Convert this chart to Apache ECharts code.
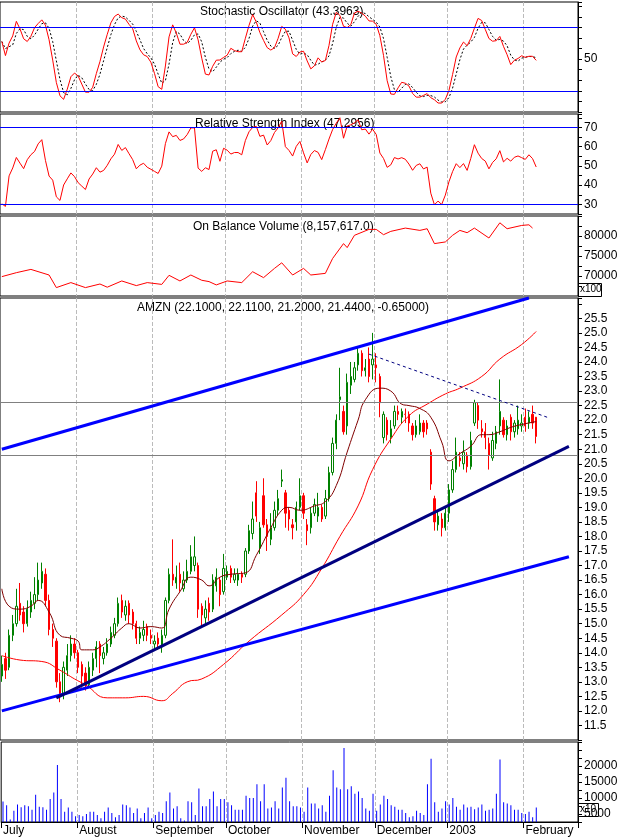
<!DOCTYPE html>
<html>
<head>
<meta charset="utf-8">
<script src="https://cdn.jsdelivr.net/npm/echarts@6/dist/echarts.min.js"></script>
<style>
  html, body { margin: 0; padding: 0; background: #fff; }
  #chart { width: 628px; height: 837px; }
</style>
</head>
<body>
<div id="chart"></div>
<script>
// данные AMZN, июль 2002 – февраль 2003
const opens = [13.2,13.8,13.5,14.6,15.0,15.7,15.4,15.0,15.4,15.7,16.0,16.4,16.7,15.8,14.8,14.4,13.0,12.6,13.4,13.9,14.3,14.0,13.6,13.3,12.9,13.4,13.8,14.3,13.8,14.0,
  14.3,14.6,15.0,15.8,15.3,15.7,15.4,15.0,14.5,14.6,14.9,14.6,14.3,14.5,14.2,14.6,15.8,16.7,16.4,16.7,16.2,16.5,16.8,17.0,17.0,15.6,15.2,15.7,15.5,16.3,
  16.5,16.1,16.6,16.9,16.5,16.5,16.7,16.7,17.5,18.1,19.5,17.6,19.4,18.4,17.9,18.3,18.9,19.9,19.5,18.9,18.4,18.5,19.0,19.4,18.4,18.3,18.8,18.7,19.0,18.7,
  19.3,20.2,21.2,22.7,22.3,21.8,23.2,23.4,23.9,24.3,23.7,24.1,23.9,23.9,23.5,21.4,22.0,21.4,21.8,22.3,22.1,22.2,22.2,21.8,21.5,21.6,21.9,21.9,20.9,19.3,
  18.4,18.6,18.3,18.8,19.6,20.3,20.7,20.5,20.8,20.4,21.9,22.5,21.7,21.6,21.2,20.7,21.2,21.8,22.0,21.5,22.1,21.6,21.7,21.8,22.1,21.9,22.2,22.10];
const closes = [13.6,13.4,14.6,15.0,15.6,15.3,15.0,15.5,15.8,16.0,16.5,16.8,15.8,14.8,14.5,13.0,12.6,13.5,13.9,14.3,14.0,13.5,13.2,12.9,13.5,13.8,14.2,13.9,14.0,14.3,
  14.7,15.0,15.7,15.4,15.6,15.3,15.0,14.5,14.7,14.8,14.6,14.5,14.4,14.3,14.6,15.8,16.7,16.5,16.6,16.4,16.5,16.8,17.3,17.3,15.5,15.3,15.5,15.4,16.5,16.6,
  16.0,16.9,16.8,16.6,16.7,16.7,16.6,17.5,18.2,18.6,18.7,18.3,18.4,18.0,18.3,18.9,19.3,19.95,18.8,18.6,18.3,19.0,19.4,18.8,18.2,18.8,19.1,19.0,18.6,19.3,
  20.2,21.2,22.0,22.8,21.6,23.3,23.5,23.8,24.3,23.7,23.8,23.5,24.1,23.8,22.6,22.2,21.5,21.7,22.3,22.2,22.3,22.2,21.9,21.5,21.8,21.9,21.6,21.7,19.8,18.5,
  18.7,18.3,18.8,19.6,20.3,20.9,20.6,20.9,20.4,21.3,22.6,22.0,21.6,21.4,20.8,21.3,21.6,22.3,21.5,21.8,21.6,21.9,22.0,21.9,21.8,22.1,21.9,21.44];
const lows = [13.0,13.1,13.4,14.4,14.9,15.1,14.7,14.9,15.2,15.5,15.8,16.2,15.6,14.6,14.2,12.8,12.3,12.4,13.2,13.7,13.8,13.3,12.8,12.7,12.8,13.2,13.5,13.3,13.6,13.9,
  14.2,14.5,14.9,15.2,15.1,15.0,14.8,14.3,14.3,14.4,14.4,14.3,14.1,14.1,14.0,14.5,15.7,16.3,16.2,16.1,16.1,16.4,16.7,16.8,15.2,14.9,15.0,15.1,15.4,16.1,
  15.6,16.0,16.5,16.4,16.4,16.3,16.4,16.6,17.4,17.9,18.5,17.4,18.3,17.5,17.7,18.2,18.7,19.7,18.3,18.2,17.9,18.2,18.9,18.6,17.7,18.1,18.7,18.5,18.5,18.6,
  19.2,20.1,21.0,22.0,21.5,21.5,22.9,23.3,23.7,23.5,23.5,23.3,23.4,23.3,22.1,21.2,21.3,21.2,21.7,22.0,21.9,21.9,21.6,21.3,21.4,21.5,21.4,21.5,19.6,18.2,
  18.2,18.0,18.2,18.5,19.5,20.2,20.4,20.3,20.2,20.3,21.8,21.7,21.4,21.0,20.3,20.6,21.0,21.5,21.4,21.3,21.3,21.4,21.5,21.6,21.6,21.7,21.7,21.20];
const highs = [13.9,14.0,14.8,15.3,16.2,16.4,15.6,15.8,16.1,16.6,17.1,17.1,16.9,16.0,15.0,14.5,13.3,13.7,14.3,14.6,14.5,14.1,13.7,13.5,13.7,14.0,14.4,14.4,14.2,14.5,
  14.9,15.2,15.9,16.0,15.8,15.8,15.5,15.1,14.9,15.1,15.0,14.8,14.6,14.7,14.8,15.9,16.9,17.9,17.0,17.1,16.8,17.2,17.7,18.0,17.1,15.7,15.8,15.9,16.7,16.9,
  16.6,17.4,17.0,17.0,16.9,16.9,16.8,17.6,18.4,19.2,19.9,18.5,20.0,18.6,18.8,19.2,19.6,20.3,19.6,19.0,18.6,19.2,20.0,19.5,18.6,19.0,19.3,19.5,19.1,19.6,
  20.4,21.4,22.2,23.8,22.5,23.6,24.0,24.0,24.5,24.4,24.1,24.5,25.0,24.3,23.6,22.3,22.1,22.0,22.5,22.5,22.4,22.4,22.3,21.9,22.0,22.2,22.0,22.0,21.0,19.4,
  18.9,18.8,19.0,19.8,20.6,21.4,20.9,21.3,20.9,21.6,22.7,22.6,22.0,21.9,21.4,21.6,21.8,23.4,22.1,22.0,22.2,22.0,22.5,22.2,22.4,22.3,22.5,22.11];
const volumes = [8900,7700,3300,6000,8000,7100,7700,7400,6300,11000,7300,7100,6300,9700,11700,20300,9700,5700,7000,5700,4300,4700,4300,5000,5700,5700,4700,3700,5700,7000,
  5300,4000,4700,8000,7700,7000,5300,6700,3700,5300,7000,3700,4700,5700,5300,9000,11700,6700,7400,3700,3000,9000,8700,4700,13000,7400,7400,9700,12000,7400,
  9700,9700,8700,7700,6300,6300,6300,10700,10000,10000,14300,9000,14300,6700,7000,9000,6700,13300,16300,9000,7400,7400,7000,5700,13300,8300,8300,6700,7700,5700,
  10700,18700,13300,12700,25600,12700,13700,11300,12000,10000,6700,6000,11300,6000,8000,10700,9700,7700,7300,6300,6300,5300,4000,4300,6000,5300,4700,14300,22300,8700,
  5700,6700,9000,8000,10000,7300,6300,8000,7000,7300,6500,7000,8000,6000,6300,6700,11300,22000,8700,8300,7700,6300,6300,5300,5000,5700,4000,7000];

// скользящие средние и OBV — опорные точки (индекс бара, значение)
const maShortIdx = [0,2,5,8,10,13,16,19,21,22,25,27,30,33,35,38,41,44,46,49,52,55,57,60,63,67,70,74,77,79,82,86,89,92,95,98,100,104,107,110,112,115,118,121,123,126,129,132,134,137,140,143,147];
const maShortVal = [16.2,15.6,15.5,15.6,15.8,15.4,14.6,14.5,14.4,14.1,14.1,14.2,14.5,14.85,15.0,14.85,14.9,14.85,15.5,16.1,16.6,16.5,16.3,16.6,16.7,16.75,17.35,18.3,18.9,19.0,18.9,19.05,19.2,19.75,20.9,22.0,22.7,23.1,23.0,22.55,22.5,22.4,22.1,21.25,20.6,20.85,21.1,21.5,21.5,21.6,21.75,21.85,21.95];
const maLongIdx = [0,5,11,16,20,23,29,34,39,44,47,51,55,61,68,77,83,88,93,98,102,107,112,117,122,126,132,137,143,147];
const maLongVal = [13.9,13.75,13.7,13.4,13.1,12.9,12.45,12.45,12.5,12.35,12.6,13.0,13.1,13.6,14.4,15.3,16.0,16.9,18.0,19.05,20.3,21.35,22.15,22.55,22.9,23.1,23.5,24.1,24.6,25.05];
const obvIdx = [0,4,8,13,15,19,23,27,29,33,37,40,44,46,49,52,55,57,59,62,66,69,72,75,77,80,83,85,89,91,94,95,97,101,103,105,107,111,115,117,119,122,124,126,128,130,134,137,139,143,145,146];
const obvVal = [69840,70830,71650,70250,67100,68350,67100,68000,67200,68760,67600,68350,67900,70170,68760,70250,68930,68600,67770,68760,68350,71070,69590,71900,73300,70250,71900,70250,70660,74380,78100,77100,80170,81650,81650,80330,81160,81980,81400,81820,78100,78510,80170,81400,80830,81980,79500,83300,81820,82640,82800,81980];

// средний рост/падение до июля (чтобы RSI стартовал около 30, как на картинке)
const rsiSeedGain = 0.10;
const rsiSeedLoss = 0.23;

// начала месяцев на оси X
const monthStarts = [0, 21, 42, 62, 83, 103, 123, 144];
const monthNames = ['July', 'August', 'September', 'October', 'November', 'December', '2003', 'February'];

const N = 159; // место справа для продолжения трендовых линий
const cats = Array.from({ length: N }, (_, i) => String(i));
const n = closes.length;

const sparse = (idx, val) => {
  const a = new Array(n).fill(null);
  idx.forEach((k, j) => { a[k] = val[j]; });
  return a;
};

// стохастик 14/3/3
const rawK = closes.map((c, i) => {
  const s = Math.max(0, i - 13);
  const hh = Math.max(...highs.slice(s, i + 1));
  const ll = Math.min(...lows.slice(s, i + 1));
  return hh === ll ? 50 : (c - ll) / (hh - ll) * 100;
});
const avg3 = (arr) => arr.map((_, i) => {
  const w = arr.slice(Math.max(0, i - 2), i + 1);
  return w.reduce((a, b) => a + b, 0) / w.length;
});
const stochK = avg3(rawK);
const stochD = avg3(stochK);

// RSI 14 (Уайлдер)
const rsi = [];
let ag = rsiSeedGain, al = rsiSeedLoss;
for (let i = 0; i < n; i++) {
  if (i > 0) {
    const d = closes[i] - closes[i - 1];
    ag = (ag * 13 + Math.max(d, 0)) / 14;
    al = (al * 13 + Math.max(-d, 0)) / 14;
  }
  rsi.push(100 - 100 / (1 + ag / al));
}

const candles = closes.map((c, i) => [opens[i], c, lows[i], highs[i]]);

const FONT = 'Liberation Sans';
const grids = [
  { left: 0, width: 578, top: 2, height: 110 },
  { left: 0, width: 578, top: 114, height: 100 },
  { left: 0, width: 578, top: 216, height: 80 },
  { left: 0, width: 578, top: 298, height: 442 },
  { left: 0, width: 578, top: 742, height: 80 }
].map((g) => ({ ...g, show: true, borderColor: '#000', borderWidth: 1 }));

const isMonth = (i) => monthStarts.includes(i) && i > 0;
const xAxes = grids.map((_, k) => ({
  type: 'category', gridIndex: k, data: cats, boundaryGap: true,
  axisLine: { show: k === 4, lineStyle: { color: '#000' } },
  axisTick: { show: k === 4, interval: (i) => monthStarts.includes(i), length: 6, lineStyle: { color: '#000' } },
  axisLabel: {
    show: k === 4, interval: (i) => monthStarts.includes(i), align: 'left', margin: 3,
    formatter: (v, i) => monthNames[monthStarts.indexOf(i)] || '',
    color: '#000', fontFamily: FONT, fontSize: 12
  },
  splitLine: { show: true, interval: (i) => isMonth(i), lineStyle: { color: '#bbb', type: 'dashed' } }
}));

const yBase = (k, o) => ({
  type: 'value', gridIndex: k, position: 'right', scale: true,
  axisLine: { show: true, lineStyle: { color: '#000' } },
  axisTick: { show: true, inside: false, length: 4, lineStyle: { color: '#000' } },
  splitLine: { show: false },
  axisLabel: { color: '#000', fontFamily: FONT, fontSize: 12, margin: 6, ...(o.label || {}) },
  min: o.min, max: o.max, interval: o.interval
});

const yAxes = [
  yBase(0, { min: 0, max: 104, interval: 10, label: { formatter: (v) => v === 50 ? '50' : '' } }),
  yBase(1, { min: 25, max: 77, interval: 5, label: { formatter: (v) => (v % 10 === 0 && v >= 30 && v <= 70) ? String(v) : '' } }),
  yBase(2, { min: 65000, max: 85000, interval: 2500, label: { formatter: (v) => (v % 5000 === 0 && v >= 70000 && v <= 80000) ? String(v) : '' } }),
  yBase(3, { min: 11, max: 26.2, interval: 0.5, label: { formatter: (v) => (v > 11.4 && v < 25.6) ? v.toFixed(1) : '' } }),
  yBase(4, { min: 2500, max: 27500, interval: 2500, label: { formatter: (v) => (v % 5000 === 0 && v >= 5000 && v <= 20000) ? String(v) : '' } })
];

const blueLevels = (a, b) => ({
  silent: true, symbol: 'none', label: { show: false },
  lineStyle: { color: '#0000ff', width: 1, type: 'solid' },
  data: [{ yAxis: a }, { yAxis: b }]
});
const seg = (a, b, color, width, type) => [
  { coord: a, lineStyle: { color, width, type: type || 'solid' } },
  { coord: b }
];

const chart = echarts.init(document.getElementById('chart'), null, { renderer: 'canvas' });
chart.setOption({
  animation: false,
  backgroundColor: '#fff',
  grid: grids,
  xAxis: xAxes,
  yAxis: yAxes,
  graphic: [
    { type: 'text', left: 200, top: 6, style: { text: 'Stochastic Oscillator (43.3963)', font: '12px ' + FONT, fill: '#000' } },
    { type: 'text', left: 195, top: 118, style: { text: 'Relative Strength Index (47.2956)', font: '12px ' + FONT, fill: '#000' } },
    { type: 'text', left: 193, top: 221, style: { text: 'On Balance Volume (8,157,617.0)', font: '12px ' + FONT, fill: '#000' } },
    { type: 'text', left: 137, top: 302, style: { text: 'AMZN (22.1000, 22.1100, 21.2000, 21.4400, -0.65000)', font: '12px ' + FONT, fill: '#000' } },
    { type: 'rect', left: 578, top: 283, shape: { width: 23, height: 13 }, style: { fill: '#fff', stroke: '#000' } },
    { type: 'text', left: 580, top: 284, style: { text: 'x100', font: '10px ' + FONT, fill: '#000' } },
    { type: 'rect', left: 578, top: 803, shape: { width: 20, height: 13 }, style: { fill: '#fff', stroke: '#000' } },
    { type: 'text', left: 580, top: 804, style: { text: 'x10', font: '10px ' + FONT, fill: '#000' } }
  ],
  series: [
    {
      type: 'line', xAxisIndex: 0, yAxisIndex: 0, data: stochD, symbol: 'none',
      lineStyle: { color: '#000', width: 1, type: [2, 2] },
      markLine: blueLevels(80, 20)
    },
    { type: 'line', xAxisIndex: 0, yAxisIndex: 0, data: stochK, symbol: 'none', lineStyle: { color: '#ff0000', width: 1 } },
    {
      type: 'line', xAxisIndex: 1, yAxisIndex: 1, data: rsi, symbol: 'none', lineStyle: { color: '#ff0000', width: 1 },
      markLine: blueLevels(70, 30)
    },
    { type: 'line', xAxisIndex: 2, yAxisIndex: 2, data: sparse(obvIdx, obvVal), connectNulls: true, symbol: 'none', lineStyle: { color: '#ff0000', width: 1 } },
    { type: 'line', xAxisIndex: 3, yAxisIndex: 3, data: sparse(maLongIdx, maLongVal), connectNulls: true, smooth: true, symbol: 'none', lineStyle: { color: '#ff0000', width: 1 } },
    { type: 'line', xAxisIndex: 3, yAxisIndex: 3, data: sparse(maShortIdx, maShortVal), connectNulls: true, smooth: true, symbol: 'none', lineStyle: { color: '#800000', width: 1 } },
    {
      type: 'candlestick', xAxisIndex: 3, yAxisIndex: 3, data: candles, barMaxWidth: 3,
      itemStyle: { color: '#ffffff', color0: '#ff0000', borderColor: '#008000', borderColor0: '#ff0000', borderWidth: 1 },
      markLine: {
        silent: true, symbol: 'none', label: { show: false },
        lineStyle: { color: '#808080', width: 1, type: 'solid' },
        data: [
          { yAxis: 22.6 }, { yAxis: 20.8 },
          seg([0, 21.0], [145, 26.2], '#0000ff', 3),
          seg([0, 12.0], [156, 17.3], '#0000ff', 3),
          seg([15, 12.45], [156, 21.1], '#000080', 3),
          seg([101, 24.27], [150, 22.1], '#000080', 1, [3, 3])
        ]
      }
    },
    { type: 'bar', xAxisIndex: 4, yAxisIndex: 4, data: volumes, barWidth: 1, itemStyle: { color: '#0000ff' } }
  ]
});
</script>
</body>
</html>
